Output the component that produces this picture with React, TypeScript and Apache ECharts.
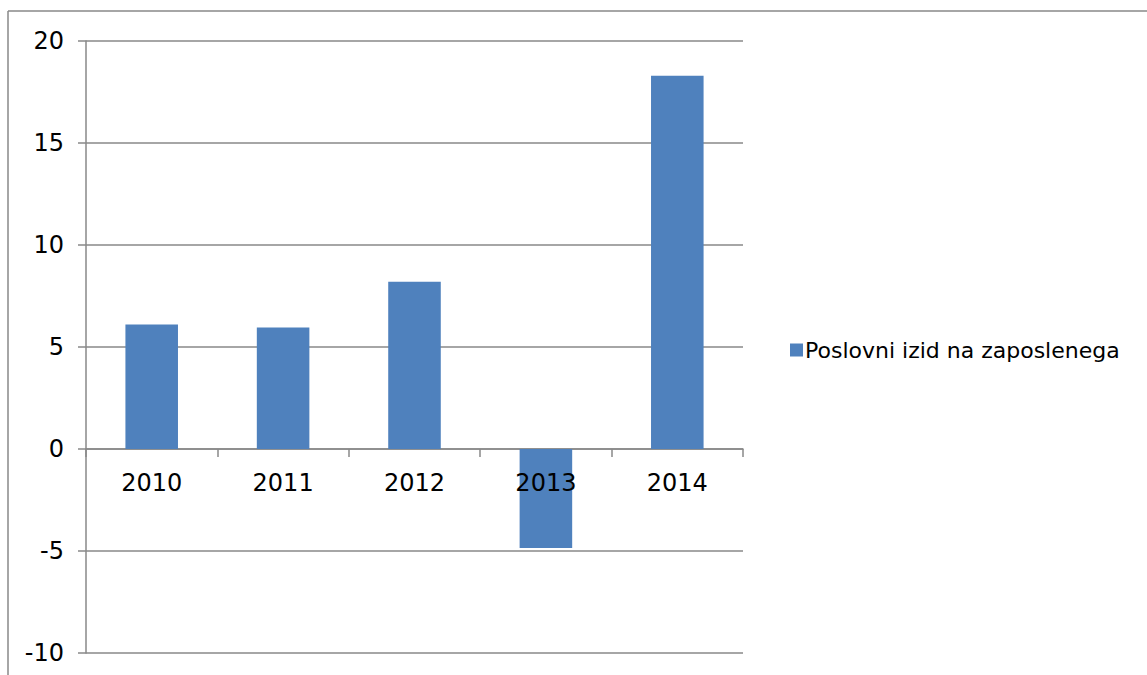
import React, { useEffect, useRef } from "react";
import * as echarts from "echarts";

const categories = ["2010", "2011", "2012", "2013", "2014"];
const values = [6.1, 5.95, 8.2, -4.85, 18.3];
const seriesName = "Poslovni izid na zaposlenega";

export default function App() {
  const ref = useRef<HTMLDivElement>(null);
  useEffect(() => {
    if (!ref.current) return;
    const chart = echarts.init(ref.current, undefined, { renderer: "svg" });
    const gray = "#888888";
    const font = "DejaVu Sans, Verdana, sans-serif";
    chart.setOption({
      animation: false,
      backgroundColor: "#ffffff",
      textStyle: { fontFamily: font },
      grid: { left: 86, top: 41, right: 404, bottom: 22, containLabel: false, outerBoundsMode: "none" },
      legend: {
        left: 785,
        top: 334,
        itemWidth: 13,
        itemHeight: 13,
        icon: "rect",
        itemGap: 6,
        textStyle: { fontSize: 22, color: "#000", fontFamily: font, padding: [0, 0, 0, -3] },
        data: [seriesName],
      },
      xAxis: {
        type: "category",
        data: categories,
        axisLine: { onZero: true, lineStyle: { color: gray, width: 1.5 } },
        axisTick: { show: true, length: 8, lineStyle: { color: gray, width: 1.5 }, alignWithLabel: false },
        axisLabel: { show: false },
        splitLine: { show: false },
      },
      yAxis: {
        type: "value",
        min: -10,
        max: 20,
        interval: 5,
        axisLine: { show: true, lineStyle: { color: gray, width: 1.5 } },
        axisTick: { show: true, length: 8, lineStyle: { color: gray, width: 1.5 } },
        axisLabel: { fontSize: 24, color: "#000", margin: 22, fontFamily: font },
        splitLine: { show: true, lineStyle: { color: gray, width: 1.5 } },
      },
      series: [
        {
          name: seriesName,
          type: "bar",
          data: values,
          barWidth: "40%",
          itemStyle: { color: "#4F81BD" },
          z: 1,
        },
        {
          name: "labels",
          type: "scatter",
          data: categories.map((c) => [c, 0]),
          symbolSize: 1,
          itemStyle: { color: "#4F81BD", opacity: 0 },
          silent: true,
          z: 5,
          label: {
            show: true,
            position: "bottom",
            distance: 21,
            formatter: (p: any) => p.value[0],
            fontSize: 24,
            color: "#000000",
            opacity: 1,
            textBorderWidth: 0,
            fontFamily: font,
          },
        },
      ],
      graphic: [
        { type: "line", shape: { x1: 8, y1: 11, x2: 8, y2: 675 }, style: { stroke: gray, lineWidth: 1.5 } },
        { type: "line", shape: { x1: 8, y1: 11, x2: 1147, y2: 11 }, style: { stroke: gray, lineWidth: 1.5 } },
      ],
    });
    return () => chart.dispose();
  }, []);
  return <div ref={ref} style={{ position: "fixed", left: 0, top: 0, width: 1147, height: 675 }} />;
}
